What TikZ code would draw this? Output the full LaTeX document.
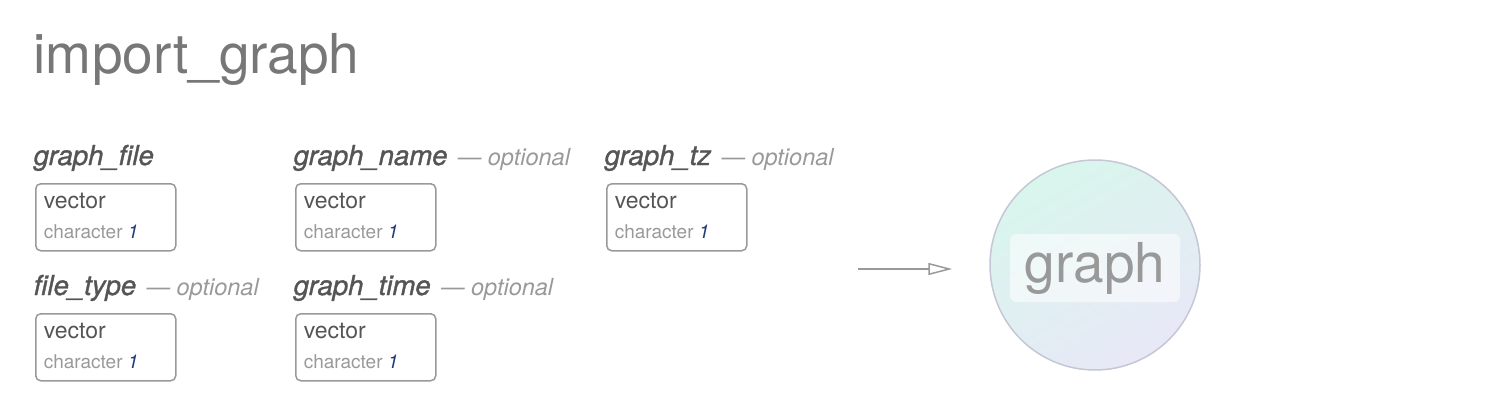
\documentclass[tikz,border=0pt]{standalone}
\usepackage{fontspec}
\setsansfont{TeX Gyre Heros}
\newfontfamily\argfont[ItalicFeatures={FakeBold=1.2}]{TeX Gyre Heros}
\usetikzlibrary{arrows.meta, positioning, calc}
\definecolor{cdark}{HTML}{555555}
\definecolor{cgrey}{HTML}{999999}
\definecolor{cnum}{HTML}{1F3A7A}
\definecolor{cmint}{HTML}{D8F6EC}
\definecolor{clav}{HTML}{E8E8F7}
\definecolor{cring}{HTML}{C4C7D6}
\tikzset{
  every picture/.style={font=\sffamily, line width=1.5pt},
  title/.style={font=\sffamily\fontsize{55}{60}\selectfont, text=cdark!80, inner sep=0pt},
  arg/.style={font=\argfont\itshape\fontsize{27.5}{30}\selectfont, text=cdark, inner sep=0pt},
  typebox/.style={draw=cgrey, rounded corners=5pt, minimum width=140pt, minimum height=67pt, inner sep=0pt},
  kind/.style={font=\sffamily\fontsize{23}{26}\selectfont, text=cdark, inner sep=0pt},
  note/.style={font=\sffamily\fontsize{19}{22}\selectfont, text=cgrey, inner sep=0pt},
  arrow/.style={-{Triangle[open, length=24pt, width=12pt]}, draw=cgrey},
}
\newcommand{\optlabel}{\sffamily\itshape\fontsize{23.5}{28}\selectfont\textcolor{cgrey}{\ \,---\ optional}}
\begin{document}
\begin{tikzpicture}[x=1pt, y=-1pt]
  \useasboundingbox (0,0) rectangle (1510,420);
  % title
  \node[title, anchor=base west] (head) at (33,74) {import\_graph};
  % arguments: label, then a box with its type
  \foreach \x/\y/\n/\o [count=\i] in {
      33/165/graph\_file/0, 293/165/graph\_name/1, 604/165/graph\_tz/1,
      33/295/file\_type/1, 293/295/graph\_time/1} {
    \node[arg, anchor=base west] (lab\i) at (\x,\y)
      {\n\ifnum\o=1 \optlabel\fi};
    \node[typebox, anchor=north west] (box\i) at (\x+2,\y+18) {};
    \node[kind, anchor=base west] (vec\i) at ($(box\i.north west)+(8,25)$) {vector};
    \node[note, anchor=base west] (chr\i) at ($(box\i.north west)+(8,55)$)
      {character \textcolor{cnum}{\itshape 1}};
  }
  % result
  \node[circle, draw=cring, minimum size=210pt, inner sep=0pt,
        top color=cmint, bottom color=clav, shading angle=30] (res) at (1095,265) {};
  \node[fill=white, fill opacity=0.55, text opacity=1, rounded corners=6pt,
        minimum width=170pt, minimum height=68pt, text=cgrey,
        font=\sffamily\fontsize{55}{58}\selectfont] (out) at ([yshift=-3pt]res.center) {graph};
  \coordinate (src) at (858,269);
  \draw[arrow, shorten >=37pt] (src) -- (src -| res.west);
\end{tikzpicture}
\end{document}
